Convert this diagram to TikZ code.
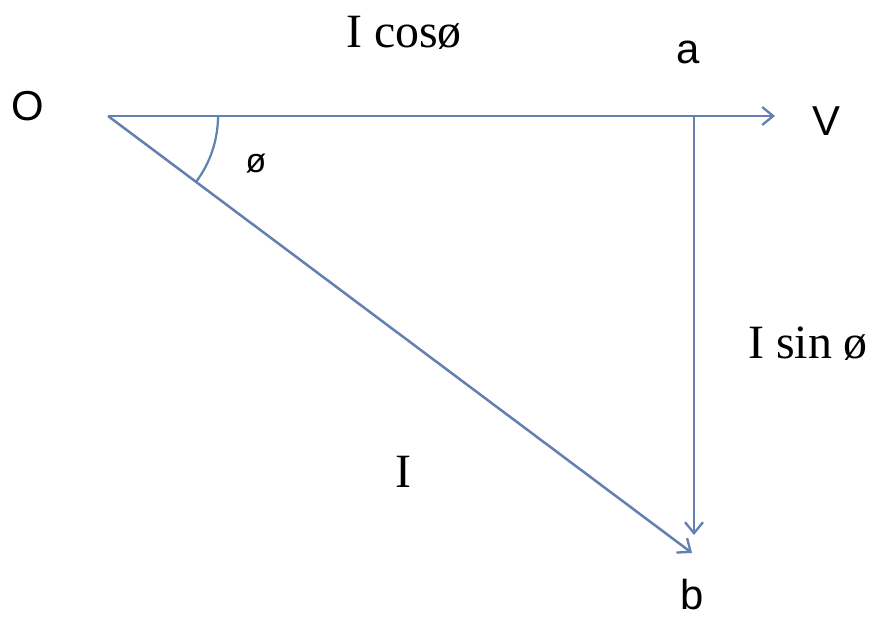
\documentclass[tikz,border=0pt]{standalone}
\usepackage{fontspec}
\setmainfont{Liberation Serif}
\newfontfamily\labsans{Liberation Sans}
\usetikzlibrary{arrows.meta}
\definecolor{vecblue}{RGB}{98,128,176}
\tikzset{
  vec/.style={draw=vecblue, line width=2.5bp, -{Straight Barb[length=11bp,width=18bp,line width=2.3bp]}},
  serlab/.style={font=\fontsize{48}{50}\selectfont, inner sep=0pt, text=black},
  sanslab/.style={font=\labsans\fontsize{42}{46}\selectfont, inner sep=0pt, text=black},
  anglab/.style={font=\labsans\fontsize{34}{36}\selectfont, inner sep=0pt, text=black}
}
\begin{document}
\begin{tikzpicture}[x=1bp,y=-1bp]
\useasboundingbox (0,0) rectangle (870,619);
\fill[white] (0,0) rectangle (870,619);
\coordinate (O) at (108,116);
\coordinate (A) at (694,116);
\coordinate (Vend) at (775,116);
\coordinate (Bv) at (694,535);
\coordinate (B) at (692,553);
\draw[vec] (O) -- (Vend);
\draw[vec] (A) -- (Bv);
\draw[vec] (O) -- (B);
\draw[draw=vecblue, line width=2.2bp] (O) ++(110,0) arc[start angle=0, end angle=36.8, radius=110];
\node[sanslab] (lO) at (28,106) {O};
\node[serlab] (lcos) at (404,33) {I cosø};
\node[sanslab] (la) at (688,52) {a};
\node[sanslab] (lV) at (826,121) {V};
\node[anglab] (lphi) at (256,164) {ø};
\node[serlab] (lsin) at (808,344) {I sin ø};
\node[serlab] (lI) at (403,472) {I};
\node[sanslab] (lb) at (692,595) {b};
\end{tikzpicture}
\end{document}
